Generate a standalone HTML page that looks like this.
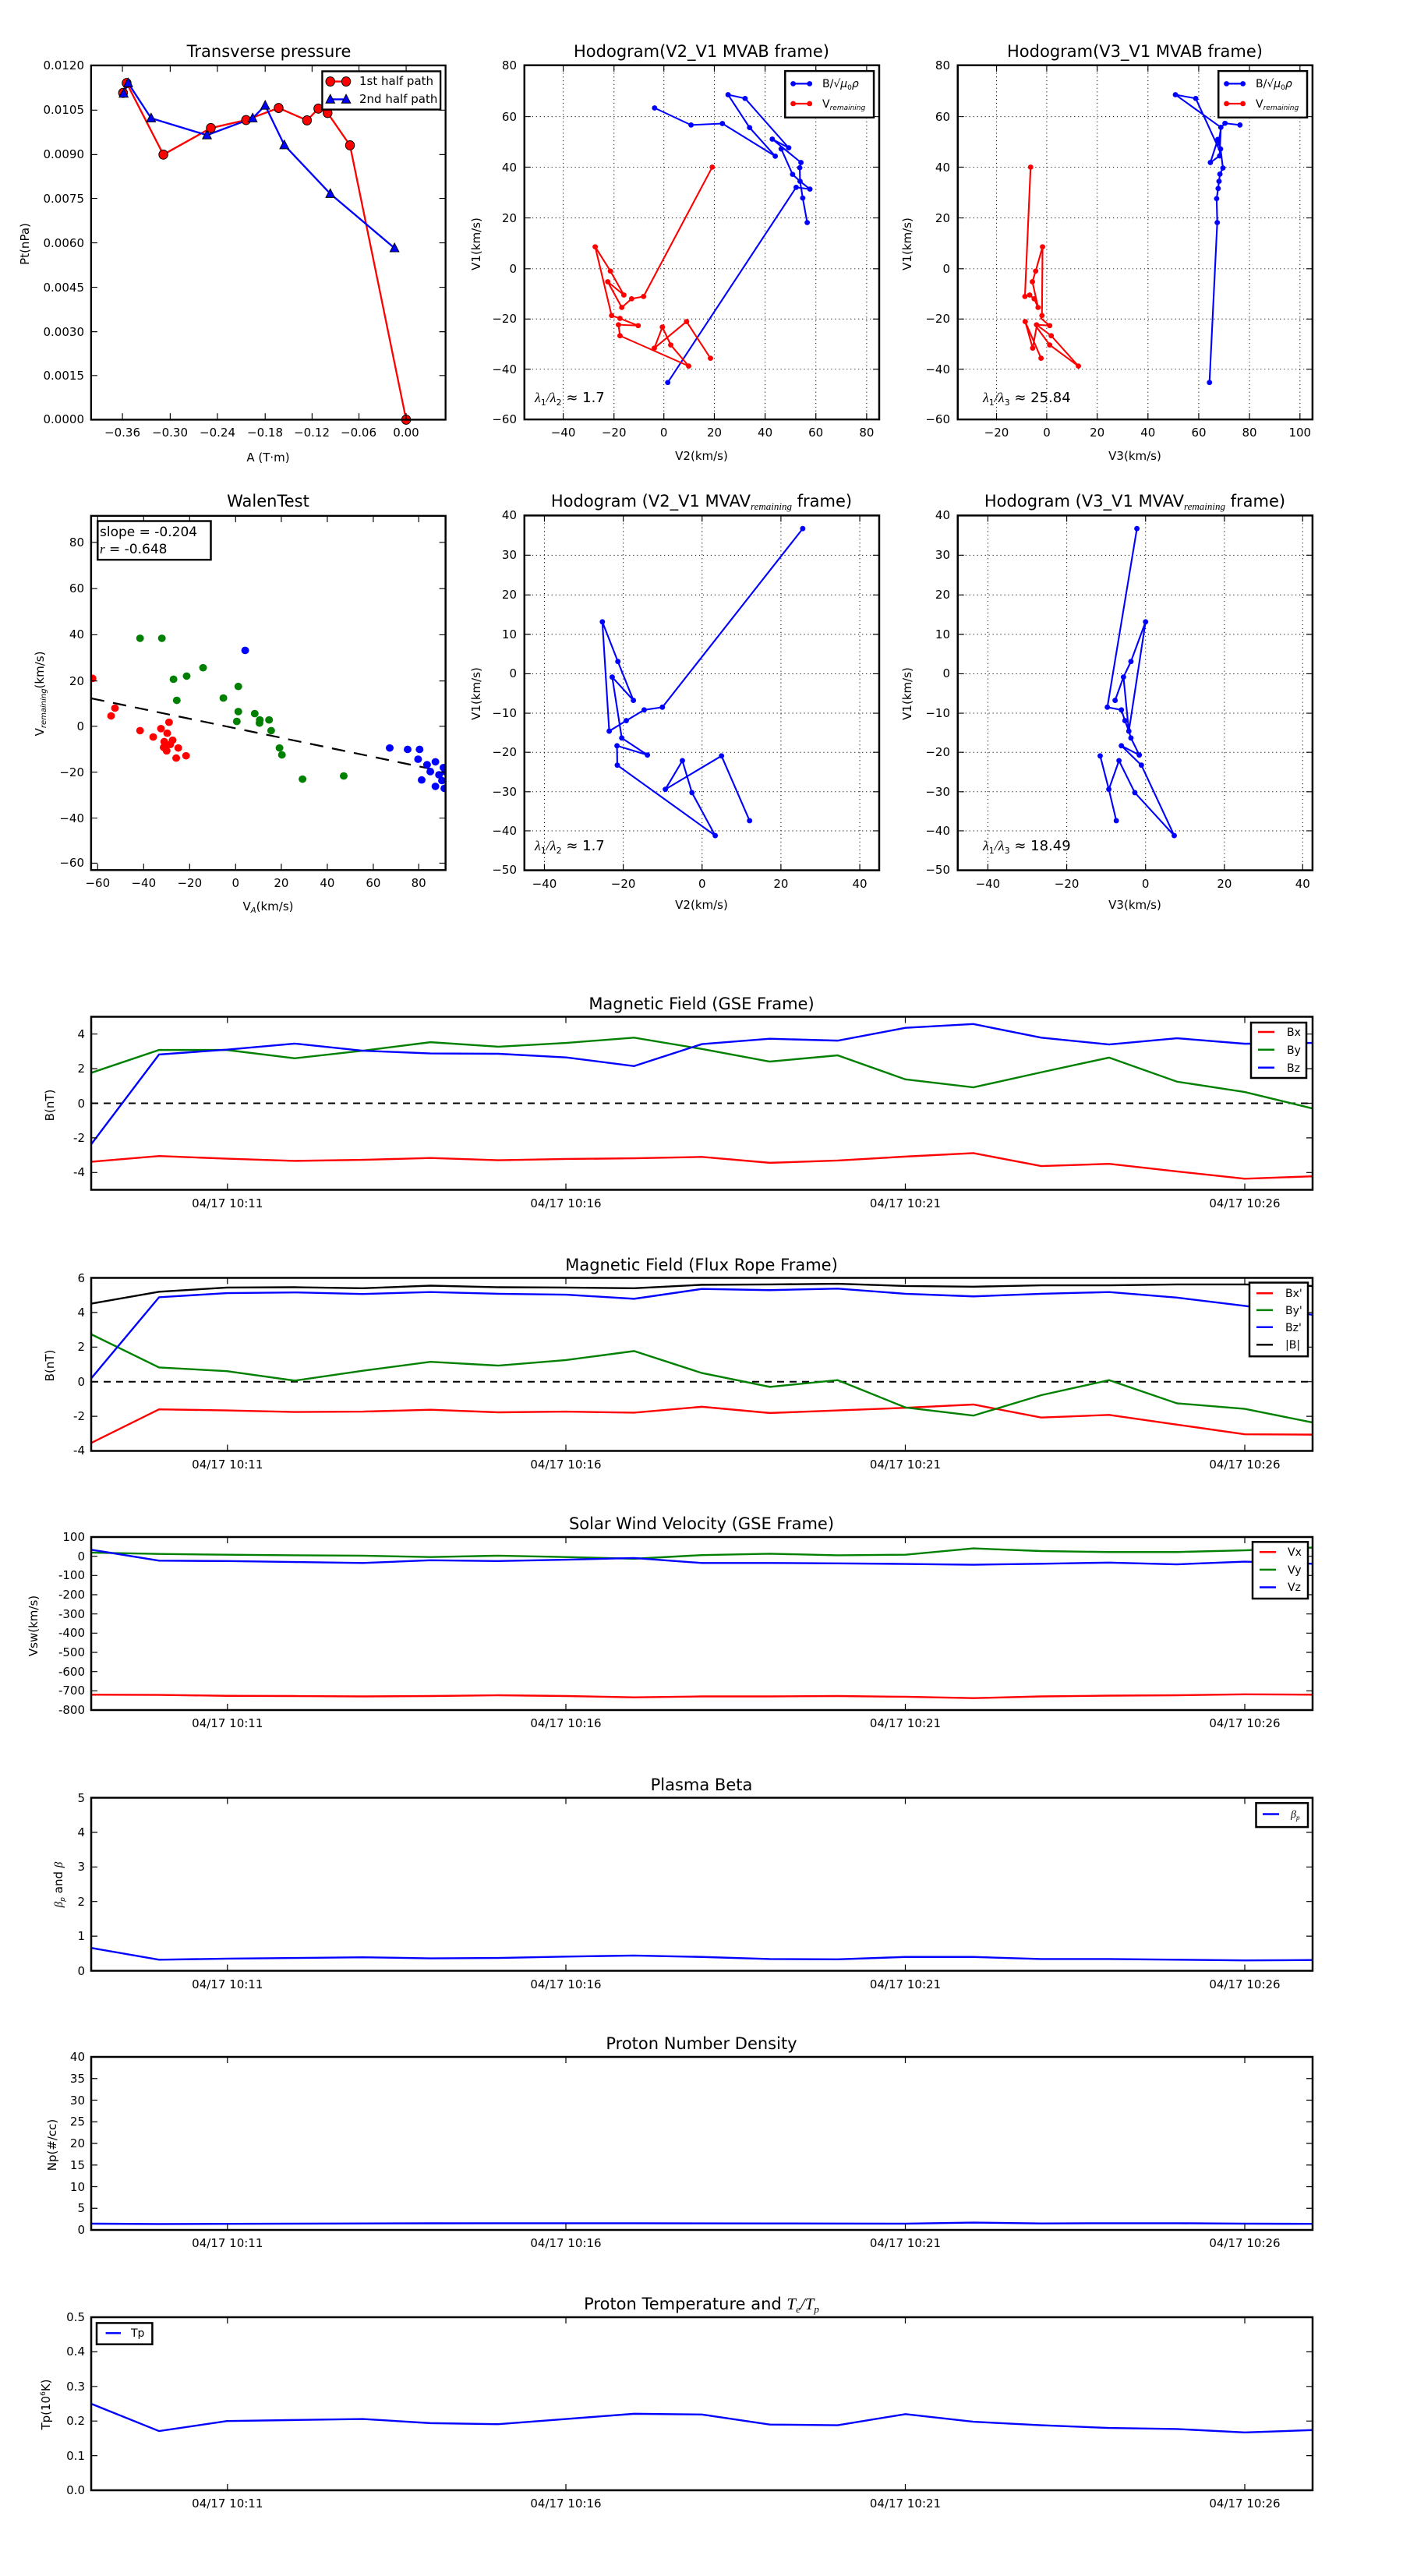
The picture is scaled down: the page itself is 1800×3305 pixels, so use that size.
<!DOCTYPE html>
<html><head><meta charset="utf-8"><style>
body{margin:0;background:#fff}
svg text{font-family:"DejaVu Sans","Liberation Sans",sans-serif;fill:#000}
.t{font-size:21px;text-anchor:middle}
.k{font-size:15px}
.e{text-anchor:end}
.m{text-anchor:middle}
.ns{vector-effect:non-scaling-stroke;fill:none}
</style></head><body>
<svg width="1800" height="3300" xmlns="http://www.w3.org/2000/svg">
<rect width="1800" height="3300" fill="#fff"/>

<!-- ============ Transverse pressure ============ -->
<g transform="translate(0,0) scale(0.38314,0.39591)">
<polyline points="412,301 424,269 547,501 706,415 824,389 933,350 1028,390 1066,352 1097,366 1172,471 1360,1360" fill="none" stroke="#f00" stroke-width="6"/>
<polyline points="414,303 429,269 506,383 693,438 846,383 888,342 952,470 1106,628 1321,804" fill="none" stroke="#00f" stroke-width="6"/>
<g fill="#f00" stroke="#000" stroke-width="2.5">
<circle cx="412" cy="301" r="15"/><circle cx="424" cy="269" r="15"/><circle cx="547" cy="501" r="15"/><circle cx="706" cy="415" r="15"/><circle cx="824" cy="389" r="15"/><circle cx="933" cy="350" r="15"/><circle cx="1028" cy="390" r="15"/><circle cx="1066" cy="352" r="15"/><circle cx="1097" cy="366" r="15"/><circle cx="1172" cy="471" r="15"/><circle cx="1360" cy="1360" r="15"/>
</g>
<g fill="#00f" stroke="#000" stroke-width="2.5">
<polygon points="414,287 399,315 429,315"/><polygon points="429,253 414,281 444,281"/><polygon points="506,367 491,395 521,395"/><polygon points="693,422 678,450 708,450"/><polygon points="846,367 831,395 861,395"/><polygon points="888,326 873,354 903,354"/><polygon points="952,454 937,482 967,482"/><polygon points="1106,612 1091,640 1121,640"/><polygon points="1321,788 1306,816 1336,816"/>
</g>
<rect x="305" y="212" width="1187" height="1148" fill="none" stroke="#000" stroke-width="6"/>
<path d="M410 1360v-21M570 1360v-21M728 1360v-21M888 1360v-21M1045 1360v-21M1202 1360v-21M1360 1360v-21M410 212v21M570 212v21M728 212v21M888 212v21M1045 212v21M1202 212v21M1360 212v21M305 357h21M305 501h21M305 643h21M305 787h21M305 931h21M305 1075h21M305 1217h21M1492 357h-21M1492 501h-21M1492 643h-21M1492 787h-21M1492 931h-21M1492 1075h-21M1492 1217h-21" stroke="#000" stroke-width="3"/>
<rect x="1079" y="231" width="396" height="124" fill="#fff" stroke="#000" stroke-width="6"/>
<line x1="1106" y1="264" x2="1159" y2="264" stroke="#f00" stroke-width="6"/>
<circle cx="1106" cy="264" r="15" fill="#f00" stroke="#000" stroke-width="2.5"/><circle cx="1159" cy="264" r="15" fill="#f00" stroke="#000" stroke-width="2.5"/>
<line x1="1106" y1="322" x2="1159" y2="322" stroke="#00f" stroke-width="6"/>
<polygon points="1106,306 1091,334 1121,334" fill="#00f" stroke="#000" stroke-width="2.5"/><polygon points="1159,306 1144,334 1174,334" fill="#00f" stroke="#000" stroke-width="2.5"/>
</g>
<text class="t" x="345" y="73">Transverse pressure</text>
<g class="k e">
<text x="108" y="89" class="e">0.0120</text><text x="108" y="146" class="e">0.0105</text><text x="108" y="203" class="e">0.0090</text><text x="108" y="260" class="e">0.0075</text><text x="108" y="317" class="e">0.0060</text><text x="108" y="374" class="e">0.0045</text><text x="108" y="431" class="e">0.0030</text><text x="108" y="487" class="e">0.0015</text><text x="108" y="543" class="e">0.0000</text>
</g>
<g class="k">
<text class="m" x="157" y="560">−0.36</text><text class="m" x="218" y="560">−0.30</text><text class="m" x="279" y="560">−0.24</text><text class="m" x="340" y="560">−0.18</text><text class="m" x="400" y="560">−0.12</text><text class="m" x="460" y="560">−0.06</text><text class="m" x="521" y="560">0.00</text>
<text class="m" x="344" y="592">A (T·m)</text>
<text class="m" transform="translate(37,313) rotate(-90)">Pt(nPa)</text>
<text x="461" y="109">1st half path</text><text x="461" y="132">2nd half path</text>
</g>

<!-- ============ Hodogram V2_V1 MVAB ============ -->
<g transform="translate(600,40) scale(0.38314,0.37037)">
<path d="M320 118V1345M490 118V1345M657 118V1345M826 118V1345M996 118V1345M1166 118V1345M1336 118V1345M190 296H1378M190 471H1378M190 647H1378M190 823H1378M190 997H1378M190 1171H1378" stroke="#000" stroke-width="2.6" stroke-dasharray="3,10"/>
<g fill="none" stroke="#00f" stroke-width="5.5">
<polyline points="626,266 748,325 853,320 1030,433 944,334 872,220 929,233 1075,404 1020,374 1116,455 1112,473 1113,520 1146,547 1100,541 670,1217"/>
<polyline points="1050,408 1088,496 1113,520 1122,578 1137,663"/>
</g>
<g fill="#00f"><circle cx="626" cy="266" r="9"/><circle cx="748" cy="325" r="9"/><circle cx="853" cy="320" r="9"/><circle cx="1030" cy="433" r="9"/><circle cx="944" cy="334" r="9"/><circle cx="872" cy="220" r="9"/><circle cx="929" cy="233" r="9"/><circle cx="1075" cy="404" r="9"/><circle cx="1020" cy="374" r="9"/><circle cx="1116" cy="455" r="9"/><circle cx="1112" cy="473" r="9"/><circle cx="1113" cy="520" r="9"/><circle cx="1146" cy="547" r="9"/><circle cx="1100" cy="541" r="9"/><circle cx="670" cy="1217" r="9"/><circle cx="1050" cy="408" r="9"/><circle cx="1088" cy="496" r="9"/><circle cx="1122" cy="578" r="9"/><circle cx="1137" cy="663" r="9"/></g>
<polyline fill="none" stroke="#f00" stroke-width="5.5" points="819,471 589,919 549,927 516,957 469,868 523,914 478,831 427,747 482,985 510,995 571,1020 505,1017 510,1055 740,1160 680,1087 652,1025 625,1098 733,1006 813,1133"/>
<g fill="#f00"><circle cx="819" cy="471" r="9"/><circle cx="589" cy="919" r="9"/><circle cx="549" cy="927" r="9"/><circle cx="516" cy="957" r="9"/><circle cx="469" cy="868" r="9"/><circle cx="523" cy="914" r="9"/><circle cx="478" cy="831" r="9"/><circle cx="427" cy="747" r="9"/><circle cx="482" cy="985" r="9"/><circle cx="510" cy="995" r="9"/><circle cx="571" cy="1020" r="9"/><circle cx="505" cy="1017" r="9"/><circle cx="510" cy="1055" r="9"/><circle cx="740" cy="1160" r="9"/><circle cx="680" cy="1087" r="9"/><circle cx="652" cy="1025" r="9"/><circle cx="625" cy="1098" r="9"/><circle cx="733" cy="1006" r="9"/><circle cx="813" cy="1133" r="9"/></g>
<rect x="190" y="118" width="1188" height="1227" fill="none" stroke="#000" stroke-width="6.5"/>
<path d="M320 1345v-22M490 1345v-22M657 1345v-22M826 1345v-22M996 1345v-22M1166 1345v-22M1336 1345v-22M320 118v22M490 118v22M657 118v22M826 118v22M996 118v22M1166 118v22M1336 118v22M190 296h21M190 471h21M190 647h21M190 823h21M190 997h21M190 1171h21M1378 296h-21M1378 471h-21M1378 647h-21M1378 823h-21M1378 997h-21M1378 1171h-21" stroke="#000" stroke-width="3"/>
<rect x="1063" y="138" width="297" height="161" fill="#fff" stroke="#000" stroke-width="6.5"/>
<line x1="1090" y1="182" x2="1145" y2="182" stroke="#00f" stroke-width="6"/><circle cx="1090" cy="182" r="9" fill="#00f"/><circle cx="1145" cy="182" r="9" fill="#00f"/>
<line x1="1090" y1="251" x2="1145" y2="251" stroke="#f00" stroke-width="6"/><circle cx="1090" cy="251" r="9" fill="#f00"/><circle cx="1145" cy="251" r="9" fill="#f00"/>
</g>
<text class="t" x="900" y="73">Hodogram(V2_V1 MVAB frame)</text>
<g class="k">
<text class="e" x="663" y="89">80</text><text class="e" x="663" y="155">60</text><text class="e" x="663" y="220">40</text><text class="e" x="663" y="285">20</text><text class="e" x="663" y="350">0</text><text class="e" x="663" y="414">−20</text><text class="e" x="663" y="479">−40</text><text class="e" x="663" y="543">−60</text>
<text class="m" x="722.6" y="560">−40</text><text class="m" x="787.7" y="560">−20</text><text class="m" x="851.7" y="560">0</text><text class="m" x="916.5" y="560">20</text><text class="m" x="981.6" y="560">40</text><text class="m" x="1046.7" y="560">60</text><text class="m" x="1111.9" y="560">80</text>
<text class="m" x="900" y="590">V2(km/s)</text>
<text class="m" transform="translate(616,313) rotate(-90)">V1(km/s)</text>
<text x="1055" y="112" style="font-size:14px">B/√<tspan font-style="italic">μ</tspan><tspan font-size="9" dy="3">0</tspan><tspan dy="-3" font-style="italic">ρ</tspan></text>
<text x="1055" y="138" style="font-size:14px">V<tspan font-size="9" dy="3" font-style="italic">remaining</tspan></text>
</g>
<text x="686" y="516" style="font-size:18px"><tspan font-style="italic" font-family="Liberation Serif">λ</tspan><tspan font-size="11" dy="4">1</tspan><tspan dy="-4" font-style="italic" font-family="Liberation Serif">/λ</tspan><tspan font-size="11" dy="4">2</tspan><tspan dy="-4"> ≈ 1.7</tspan></text>

<!-- ============ Hodogram V3_V1 MVAB ============ -->
<g transform="translate(1200,40) scale(0.38314,0.37037)">
<path d="M205 118V1345M373 118V1345M542 118V1345M712 118V1345M882 118V1345M1052 118V1345M1221 118V1345M75 296H1263M75 471H1263M75 647H1263M75 823H1263M75 997H1263M75 1171H1263" stroke="#000" stroke-width="2.6" stroke-dasharray="3,10"/>
<polyline fill="none" stroke="#00f" stroke-width="5.5" points="918,1217 944,663 942,580 947,545 950,520 953,495 963,474 955,408 946,375 921,455 952,432 956,333 804,220 872,233 946,400 957,333 970,319 1020,325"/>
<g fill="#00f"><circle cx="918" cy="1217" r="9"/><circle cx="944" cy="663" r="9"/><circle cx="942" cy="580" r="9"/><circle cx="947" cy="545" r="9"/><circle cx="950" cy="520" r="9"/><circle cx="953" cy="495" r="9"/><circle cx="963" cy="474" r="9"/><circle cx="955" cy="408" r="9"/><circle cx="946" cy="375" r="9"/><circle cx="921" cy="455" r="9"/><circle cx="952" cy="432" r="9"/><circle cx="956" cy="333" r="9"/><circle cx="804" cy="220" r="9"/><circle cx="872" cy="233" r="9"/><circle cx="970" cy="319" r="9"/><circle cx="1020" cy="325" r="9"/></g>
<polyline fill="none" stroke="#f00" stroke-width="5.5" points="319,471 300,919 316,914 331,927 344,957 325,868 336,831 359,747 357,985 354,995 383,1020 339,1017 388,1055 479,1160 383,1087 339,1025 326,1098 301,1006 354,1133"/>
<g fill="#f00"><circle cx="319" cy="471" r="9"/><circle cx="300" cy="919" r="9"/><circle cx="316" cy="914" r="9"/><circle cx="331" cy="927" r="9"/><circle cx="344" cy="957" r="9"/><circle cx="325" cy="868" r="9"/><circle cx="336" cy="831" r="9"/><circle cx="359" cy="747" r="9"/><circle cx="357" cy="985" r="9"/><circle cx="383" cy="1020" r="9"/><circle cx="339" cy="1017" r="9"/><circle cx="388" cy="1055" r="9"/><circle cx="479" cy="1160" r="9"/><circle cx="383" cy="1087" r="9"/><circle cx="326" cy="1098" r="9"/><circle cx="301" cy="1006" r="9"/><circle cx="354" cy="1133" r="9"/></g>
<rect x="75" y="118" width="1188" height="1227" fill="none" stroke="#000" stroke-width="6.5"/>
<path d="M205 1345v-22M373 1345v-22M542 1345v-22M712 1345v-22M882 1345v-22M1052 1345v-22M1221 1345v-22M205 118v22M373 118v22M542 118v22M712 118v22M882 118v22M1052 118v22M1221 118v22M75 296h21M75 471h21M75 647h21M75 823h21M75 997h21M75 1171h21M1263 296h-21M1263 471h-21M1263 647h-21M1263 823h-21M1263 997h-21M1263 1171h-21" stroke="#000" stroke-width="3"/>
<rect x="948" y="138" width="297" height="161" fill="#fff" stroke="#000" stroke-width="6.5"/>
<line x1="975" y1="182" x2="1030" y2="182" stroke="#00f" stroke-width="6"/><circle cx="975" cy="182" r="9" fill="#00f"/><circle cx="1030" cy="182" r="9" fill="#00f"/>
<line x1="975" y1="251" x2="1030" y2="251" stroke="#f00" stroke-width="6"/><circle cx="975" cy="251" r="9" fill="#f00"/><circle cx="1030" cy="251" r="9" fill="#f00"/>
</g>
<text class="t" x="1456" y="73">Hodogram(V3_V1 MVAB frame)</text>
<g class="k">
<text class="e" x="1219" y="89">80</text><text class="e" x="1219" y="155">60</text><text class="e" x="1219" y="220">40</text><text class="e" x="1219" y="285">20</text><text class="e" x="1219" y="350">0</text><text class="e" x="1219" y="414">−20</text><text class="e" x="1219" y="479">−40</text><text class="e" x="1219" y="543">−60</text>
<text class="m" x="1278.5" y="560">−20</text><text class="m" x="1343" y="560">0</text><text class="m" x="1407.7" y="560">20</text><text class="m" x="1472.8" y="560">40</text><text class="m" x="1538" y="560">60</text><text class="m" x="1603" y="560">80</text><text class="m" x="1667.8" y="560">100</text>
<text class="m" x="1456" y="590">V3(km/s)</text>
<text class="m" transform="translate(1169,313) rotate(-90)">V1(km/s)</text>
<text x="1611" y="112" style="font-size:14px">B/√<tspan font-style="italic">μ</tspan><tspan font-size="9" dy="3">0</tspan><tspan dy="-3" font-style="italic">ρ</tspan></text>
<text x="1611" y="138" style="font-size:14px">V<tspan font-size="9" dy="3" font-style="italic">remaining</tspan></text>
</g>
<text x="1261" y="516" style="font-size:18px"><tspan font-style="italic" font-family="Liberation Serif">λ</tspan><tspan font-size="11" dy="4">1</tspan><tspan dy="-4" font-style="italic" font-family="Liberation Serif">/λ</tspan><tspan font-size="11" dy="4">3</tspan><tspan dy="-4"> ≈ 25.84</tspan></text>

<!-- ============ WalenTest ============ -->
<defs><clipPath id="wc"><rect x="305" y="113" width="1187" height="1227"/></clipPath></defs>
<g transform="translate(0,620) scale(0.38314,0.37037)">
<g clip-path="url(#wc)">
<line x1="305" y1="745" x2="1492" y2="1000" stroke="#000" stroke-width="6" stroke-dasharray="45,30"/>
<g fill="#f00"><circle cx="310" cy="676" r="13"/><circle cx="372" cy="806" r="13"/><circle cx="385" cy="779" r="13"/><circle cx="469" cy="857" r="13"/><circle cx="513" cy="879" r="13"/><circle cx="539" cy="850" r="13"/><circle cx="566" cy="828" r="13"/><circle cx="560" cy="866" r="13"/><circle cx="550" cy="895" r="13"/><circle cx="578" cy="890" r="13"/><circle cx="548" cy="915" r="13"/><circle cx="558" cy="927" r="13"/><circle cx="570" cy="905" r="13"/><circle cx="597" cy="917" r="13"/><circle cx="590" cy="952" r="13"/><circle cx="623" cy="944" r="13"/></g>
<g fill="#008000"><circle cx="469" cy="537" r="13"/><circle cx="542" cy="537" r="13"/><circle cx="680" cy="639" r="13"/><circle cx="625" cy="668" r="13"/><circle cx="581" cy="679" r="13"/><circle cx="592" cy="752" r="13"/><circle cx="748" cy="744" r="13"/><circle cx="798" cy="704" r="13"/><circle cx="798" cy="791" r="13"/><circle cx="793" cy="825" r="13"/><circle cx="853" cy="798" r="13"/><circle cx="869" cy="831" r="13"/><circle cx="870" cy="820" r="13"/><circle cx="901" cy="820" r="13"/><circle cx="908" cy="857" r="13"/><circle cx="936" cy="917" r="13"/><circle cx="944" cy="941" r="13"/><circle cx="1013" cy="1025" r="13"/><circle cx="1151" cy="1014" r="13"/></g>
<g fill="#00f"><circle cx="821" cy="579" r="13"/><circle cx="1305" cy="917" r="13"/><circle cx="1365" cy="922" r="13"/><circle cx="1405" cy="922" r="13"/><circle cx="1400" cy="956" r="13"/><circle cx="1430" cy="975" r="13"/><circle cx="1441" cy="999" r="13"/><circle cx="1458" cy="965" r="13"/><circle cx="1412" cy="1028" r="13"/><circle cx="1458" cy="1050" r="13"/><circle cx="1470" cy="1010" r="13"/><circle cx="1485" cy="985" r="13"/><circle cx="1480" cy="1030" r="13"/><circle cx="1488" cy="1057" r="13"/><circle cx="1492" cy="1000" r="13"/></g>
</g>
<rect x="305" y="113" width="1187" height="1227" fill="none" stroke="#000" stroke-width="6.5"/>
<path d="M327 1340v-22M481 1340v-22M635 1340v-22M789 1340v-22M942 1340v-22M1096 1340v-22M1250 1340v-22M1402 1340v-22M327 113v22M481 113v22M635 113v22M789 113v22M942 113v22M1096 113v22M1250 113v22M1402 113v22M305 205h21M305 365h21M305 525h21M305 685h21M305 842h21M305 1001h21M305 1160h21M305 1316h21M1492 205h-21M1492 365h-21M1492 525h-21M1492 685h-21M1492 842h-21M1492 1001h-21M1492 1160h-21M1492 1316h-21" stroke="#000" stroke-width="3"/>
<rect x="327" y="131" width="379" height="134" fill="#fff" stroke="#000" stroke-width="6.5"/>
</g>
<text class="t" x="344" y="650">WalenTest</text>
<g class="k">
<text class="e" x="108" y="701">80</text><text class="e" x="108" y="760">60</text><text class="e" x="108" y="819">40</text><text class="e" x="108" y="879">20</text><text class="e" x="108" y="937">0</text><text class="e" x="108" y="996">−20</text><text class="e" x="108" y="1055">−40</text><text class="e" x="108" y="1112">−60</text>
<text class="m" x="125.3" y="1138">−60</text><text class="m" x="184.3" y="1138">−40</text><text class="m" x="243.3" y="1138">−20</text><text class="m" x="302.3" y="1138">0</text><text class="m" x="360.9" y="1138">20</text><text class="m" x="419.9" y="1138">40</text><text class="m" x="478.9" y="1138">60</text><text class="m" x="537.2" y="1138">80</text>
<text class="m" x="344" y="1168">V<tspan font-size="10" dy="3" font-style="italic">A</tspan><tspan dy="-3">(km/s)</tspan></text>
<text class="m" transform="translate(56,890) rotate(-90)">V<tspan font-size="10" dy="3" font-style="italic">remaining</tspan><tspan dy="-3">(km/s)</tspan></text>
</g>
<text x="128" y="688" style="font-size:17px">slope = -0.204</text>
<text x="128" y="710" style="font-size:17px"><tspan font-style="italic" font-family="Liberation Serif">r</tspan> = -0.648</text>

<!-- ============ Hodogram V2_V1 MVAV ============ -->
<g transform="translate(600,620) scale(0.38314,0.38314)">
<path d="M257 108V1296M521 108V1296M785 108V1296M1049 108V1296M1313 108V1296M190 241H1378M190 374H1378M190 506H1378M190 638H1378M190 770H1378M190 901H1378M190 1033H1378M190 1164H1378" stroke="#000" stroke-width="2.6" stroke-dasharray="3,10"/>
<polyline fill="none" stroke="#00f" stroke-width="5.5" points="1122,152 652,750 591,759 531,795 474,830 451,464 503,597 555,727 484,649 516,853 602,910 500,879 501,944 829,1180 751,1036 719,929 662,1025 850,913 944,1130"/>
<g fill="#00f"><circle cx="1122" cy="152" r="9"/><circle cx="652" cy="750" r="9"/><circle cx="591" cy="759" r="9"/><circle cx="531" cy="795" r="9"/><circle cx="474" cy="830" r="9"/><circle cx="451" cy="464" r="9"/><circle cx="503" cy="597" r="9"/><circle cx="555" cy="727" r="9"/><circle cx="484" cy="649" r="9"/><circle cx="516" cy="853" r="9"/><circle cx="602" cy="910" r="9"/><circle cx="500" cy="879" r="9"/><circle cx="501" cy="944" r="9"/><circle cx="829" cy="1180" r="9"/><circle cx="751" cy="1036" r="9"/><circle cx="719" cy="929" r="9"/><circle cx="662" cy="1025" r="9"/><circle cx="850" cy="913" r="9"/><circle cx="944" cy="1130" r="9"/></g>
<rect x="190" y="108" width="1188" height="1188" fill="none" stroke="#000" stroke-width="6.5"/>
<path d="M257 1296v-21M521 1296v-21M785 1296v-21M1049 1296v-21M1313 1296v-21M257 108v21M521 108v21M785 108v21M1049 108v21M1313 108v21M190 241h21M190 374h21M190 506h21M190 638h21M190 770h21M190 901h21M190 1033h21M190 1164h21M1378 241h-21M1378 374h-21M1378 506h-21M1378 638h-21M1378 770h-21M1378 901h-21M1378 1033h-21M1378 1164h-21" stroke="#000" stroke-width="3"/>
</g>
<text class="t" x="900" y="650">Hodogram (V2_V1 MVAV<tspan font-size="13" dy="4" font-style="italic" font-family="Liberation Serif">remaining</tspan><tspan dy="-4"> frame)</tspan></text>
<g class="k">
<text class="e" x="663" y="666">40</text><text class="e" x="663" y="717">30</text><text class="e" x="663" y="768">20</text><text class="e" x="663" y="819">10</text><text class="e" x="663" y="869">0</text><text class="e" x="663" y="920">−10</text><text class="e" x="663" y="970">−20</text><text class="e" x="663" y="1021">−30</text><text class="e" x="663" y="1071">−40</text><text class="e" x="663" y="1121">−50</text>
<text class="m" x="698.5" y="1139">−40</text><text class="m" x="799.6" y="1139">−20</text><text class="m" x="900.8" y="1139">0</text><text class="m" x="1001.9" y="1139">20</text><text class="m" x="1103" y="1139">40</text>
<text class="m" x="900" y="1166">V2(km/s)</text>
<text class="m" transform="translate(616,890) rotate(-90)">V1(km/s)</text>
</g>
<text x="686" y="1091" style="font-size:18px"><tspan font-style="italic" font-family="Liberation Serif">λ</tspan><tspan font-size="11" dy="4">1</tspan><tspan dy="-4" font-style="italic" font-family="Liberation Serif">/λ</tspan><tspan font-size="11" dy="4">2</tspan><tspan dy="-4"> ≈ 1.7</tspan></text>

<!-- ============ Hodogram V3_V1 MVAV ============ -->
<g transform="translate(1200,620) scale(0.38314,0.38314)">
<path d="M176 108V1296M440 108V1296M704 108V1296M968 108V1296M1230 108V1296M75 241H1263M75 374H1263M75 506H1263M75 638H1263M75 770H1263M75 901H1263M75 1033H1263M75 1164H1263" stroke="#000" stroke-width="2.6" stroke-dasharray="3,10"/>
<polyline fill="none" stroke="#00f" stroke-width="5.5" points="675,152 576,750 623,759 635,795 648,830 704,464 655,597 630,649 602,727 630,649 648,830 655,853 683,910 623,879 690,944 800,1180 668,1036 615,929 581,1025 552,913 581,1025 606,1130"/>
<g fill="#00f"><circle cx="675" cy="152" r="9"/><circle cx="576" cy="750" r="9"/><circle cx="623" cy="759" r="9"/><circle cx="635" cy="795" r="9"/><circle cx="648" cy="830" r="9"/><circle cx="630" cy="649" r="9"/><circle cx="602" cy="727" r="9"/><circle cx="655" cy="597" r="9"/><circle cx="704" cy="464" r="9"/><circle cx="655" cy="853" r="9"/><circle cx="683" cy="910" r="9"/><circle cx="623" cy="879" r="9"/><circle cx="690" cy="944" r="9"/><circle cx="800" cy="1180" r="9"/><circle cx="668" cy="1036" r="9"/><circle cx="615" cy="929" r="9"/><circle cx="581" cy="1025" r="9"/><circle cx="552" cy="913" r="9"/><circle cx="606" cy="1130" r="9"/></g>
<rect x="75" y="108" width="1188" height="1188" fill="none" stroke="#000" stroke-width="6.5"/>
<path d="M176 1296v-21M440 1296v-21M704 1296v-21M968 1296v-21M1230 1296v-21M176 108v21M440 108v21M704 108v21M968 108v21M1230 108v21M75 241h21M75 374h21M75 506h21M75 638h21M75 770h21M75 901h21M75 1033h21M75 1164h21M1263 241h-21M1263 374h-21M1263 506h-21M1263 638h-21M1263 770h-21M1263 901h-21M1263 1033h-21M1263 1164h-21" stroke="#000" stroke-width="3"/>
</g>
<text class="t" x="1456" y="650">Hodogram (V3_V1 MVAV<tspan font-size="13" dy="4" font-style="italic" font-family="Liberation Serif">remaining</tspan><tspan dy="-4"> frame)</tspan></text>
<g class="k">
<text class="e" x="1219" y="666">40</text><text class="e" x="1219" y="717">30</text><text class="e" x="1219" y="768">20</text><text class="e" x="1219" y="819">10</text><text class="e" x="1219" y="869">0</text><text class="e" x="1219" y="920">−10</text><text class="e" x="1219" y="970">−20</text><text class="e" x="1219" y="1021">−30</text><text class="e" x="1219" y="1071">−40</text><text class="e" x="1219" y="1121">−50</text>
<text class="m" x="1267.4" y="1139">−40</text><text class="m" x="1368.6" y="1139">−20</text><text class="m" x="1469.7" y="1139">0</text><text class="m" x="1570.9" y="1139">20</text><text class="m" x="1671.3" y="1139">40</text>
<text class="m" x="1456" y="1166">V3(km/s)</text>
<text class="m" transform="translate(1169,890) rotate(-90)">V1(km/s)</text>
</g>
<text x="1261" y="1091" style="font-size:18px"><tspan font-style="italic" font-family="Liberation Serif">λ</tspan><tspan font-size="11" dy="4">1</tspan><tspan dy="-4" font-style="italic" font-family="Liberation Serif">/λ</tspan><tspan font-size="11" dy="4">3</tspan><tspan dy="-4"> ≈ 18.49</tspan></text>

<!-- ============ Time panels ============ -->
<!-- GSE -->
<line x1="117" y1="1415.5" x2="1684" y2="1415.5" stroke="#000" stroke-width="2" stroke-dasharray="9,7"/>
<g transform="translate(117,1415.5) scale(87.06,-22.2)" stroke-width="2.4">
<polyline class="ns" stroke="#f00" points="0,-3.38 1,-3.05 2,-3.2 3,-3.33 4,-3.27 5,-3.16 6,-3.29 7,-3.22 8,-3.18 9,-3.1 10,-3.44 11,-3.31 12,-3.08 13,-2.88 14,-3.63 15,-3.5 16,-3.94 17,-4.36 18,-4.22"/>
<polyline class="ns" stroke="#008000" points="0,1.76 1,3.08 2,3.08 3,2.6 4,3.04 5,3.53 6,3.27 7,3.49 8,3.79 9,3.14 10,2.41 11,2.77 12,1.38 13,0.92 14,1.79 15,2.64 16,1.25 17,0.65 18,-0.3"/>
<polyline class="ns" stroke="#00f" points="0,-2.37 1,2.82 2,3.1 3,3.45 4,3.04 5,2.88 6,2.86 7,2.65 8,2.15 9,3.42 10,3.73 11,3.62 12,4.36 13,4.58 14,3.79 15,3.4 16,3.76 17,3.44 18,3.49"/>
</g>
<rect x="117" y="1304.5" width="1567" height="222" fill="none" stroke="#000" stroke-width="2.5"/>
<path d="M291.8 1526.5v-8M726 1526.5v-8M1161.5 1526.5v-8M1597 1526.5v-8M291.8 1304.5v8M726 1304.5v8M1161.5 1304.5v8M1597 1304.5v8M117 1326.7h8M117 1371.1h8M117 1415.5h8M117 1459.9h8M117 1504.3h8M1684 1326.7h-8M1684 1371.1h-8M1684 1415.5h-8M1684 1459.9h-8M1684 1504.3h-8" stroke="#000" stroke-width="1.2"/>
<rect x="1605" y="1312" width="71" height="71" fill="#fff" stroke="#000" stroke-width="2.5"/>
<path d="M1614 1324h21" stroke="#f00" stroke-width="2.5"/><path d="M1614 1346.7h21" stroke="#008000" stroke-width="2.5"/><path d="M1614 1369.7h21" stroke="#00f" stroke-width="2.5"/>
<g style="font-size:14px"><text x="1651" y="1329">Bx</text><text x="1651" y="1352">By</text><text x="1651" y="1375">Bz</text></g>
<text class="t" x="900" y="1295">Magnetic Field (GSE Frame)</text>
<g class="k">
<text class="e" x="109" y="1332">4</text><text class="e" x="109" y="1376">2</text><text class="e" x="109" y="1421">0</text><text class="e" x="109" y="1465">-2</text><text class="e" x="109" y="1509">-4</text>
<text class="m" x="291.8" y="1549">04/17 10:11</text><text class="m" x="726" y="1549">04/17 10:16</text><text class="m" x="1161.5" y="1549">04/17 10:21</text><text class="m" x="1597" y="1549">04/17 10:26</text>
<text class="m" transform="translate(69,1418) rotate(-90)">B(nT)</text>
</g>

<!-- Flux rope -->
<line x1="117" y1="1772.7" x2="1684" y2="1772.7" stroke="#000" stroke-width="2" stroke-dasharray="9,7"/>
<g transform="translate(117,1772.7) scale(87.06,-22.2)">
<polyline class="ns" stroke="#f00" stroke-width="2.4" points="0,-3.54 1,-1.6 2,-1.66 3,-1.75 4,-1.73 5,-1.62 6,-1.77 7,-1.73 8,-1.79 9,-1.45 10,-1.81 11,-1.66 12,-1.51 13,-1.32 14,-2.07 15,-1.92 16,-2.48 17,-3.04 18,-3.06"/>
<polyline class="ns" stroke="#008000" stroke-width="2.4" points="0,2.74 1,0.82 2,0.61 3,0.06 4,0.63 5,1.15 6,0.93 7,1.25 8,1.77 9,0.5 10,-0.3 11,0.09 12,-1.49 13,-1.96 14,-0.78 15,0.09 16,-1.25 17,-1.57 18,-2.36"/>
<polyline class="ns" stroke="#00f" stroke-width="2.4" points="0,0.19 1,4.88 2,5.12 3,5.16 4,5.07 5,5.18 6,5.08 7,5.03 8,4.79 9,5.36 10,5.29 11,5.38 12,5.08 13,4.93 14,5.08 15,5.18 16,4.86 17,4.38 18,3.87"/>
<polyline class="ns" stroke="#000" stroke-width="2.4" points="0,4.51 1,5.2 2,5.44 3,5.46 4,5.4 5,5.55 6,5.46 7,5.44 8,5.4 9,5.6 10,5.62 11,5.66 12,5.53 13,5.49 14,5.57 15,5.57 16,5.62 17,5.62 18,5.53"/>
</g>
<rect x="117" y="1639.5" width="1567" height="222" fill="none" stroke="#000" stroke-width="2.5"/>
<path d="M291.8 1861.5v-8M726 1861.5v-8M1161.5 1861.5v-8M1597 1861.5v-8M291.8 1639.5v8M726 1639.5v8M1161.5 1639.5v8M1597 1639.5v8M117 1683.9h8M117 1728.3h8M117 1772.7h8M117 1817.1h8M1684 1683.9h-8M1684 1728.3h-8M1684 1772.7h-8M1684 1817.1h-8" stroke="#000" stroke-width="1.2"/>
<rect x="1603" y="1645.6" width="75" height="94.6" fill="#fff" stroke="#000" stroke-width="2.5"/>
<path d="M1612 1659.3h21" stroke="#f00" stroke-width="2.5"/><path d="M1612 1680.9h21" stroke="#008000" stroke-width="2.5"/><path d="M1612 1702.8h21" stroke="#00f" stroke-width="2.5"/><path d="M1612 1725.3h21" stroke="#000" stroke-width="2.5"/>
<g style="font-size:14px"><text x="1649" y="1664">Bx'</text><text x="1649" y="1686">By'</text><text x="1649" y="1708">Bz'</text><text x="1649" y="1730">|B|</text></g>
<text class="t" x="900" y="1630">Magnetic Field (Flux Rope Frame)</text>
<g class="k">
<text class="e" x="109" y="1645">6</text><text class="e" x="109" y="1689">4</text><text class="e" x="109" y="1733">2</text><text class="e" x="109" y="1778">0</text><text class="e" x="109" y="1822">-2</text><text class="e" x="109" y="1866">-4</text>
<text class="m" x="291.8" y="1884">04/17 10:11</text><text class="m" x="726" y="1884">04/17 10:16</text><text class="m" x="1161.5" y="1884">04/17 10:21</text><text class="m" x="1597" y="1884">04/17 10:26</text>
<text class="m" transform="translate(69,1752) rotate(-90)">B(nT)</text>
</g>

<!-- Solar wind -->
<g transform="translate(117,1996.67) scale(87.06,-0.24667)">
<polyline class="ns" stroke="#f00" stroke-width="2.4" points="0,-720 1,-721 2,-726 3,-727 4,-729 5,-727 6,-723 7,-727 8,-734 9,-729 10,-729 11,-727 12,-731 13,-738 14,-729 15,-725 16,-723 17,-718 18,-720"/>
<polyline class="ns" stroke="#008000" stroke-width="2.4" points="0,19 1,12 2,8 3,5 4,3 5,-4 6,3 7,-4 8,-13 9,6 10,13 11,5 12,8 13,41 14,27 15,22 16,22 17,31 18,45"/>
<polyline class="ns" stroke="#00f" stroke-width="2.4" points="0,34 1,-23 2,-25 3,-30 4,-35 5,-21 6,-25 7,-18 8,-9 9,-35 10,-35 11,-37 12,-40 13,-44 14,-39 15,-33 16,-42 17,-28 18,-39"/>
</g>
<rect x="117" y="1972" width="1567" height="222" fill="none" stroke="#000" stroke-width="2.5"/>
<path d="M291.8 2194v-8M726 2194v-8M1161.5 2194v-8M1597 2194v-8M291.8 1972v8M726 1972v8M1161.5 1972v8M1597 1972v8M117 1996.7h8M117 2021.3h8M117 2046h8M117 2070.7h8M117 2095.3h8M117 2120h8M117 2144.7h8M117 2169.3h8M1684 1996.7h-8M1684 2021.3h-8M1684 2046h-8M1684 2070.7h-8M1684 2095.3h-8M1684 2120h-8M1684 2144.7h-8M1684 2169.3h-8" stroke="#000" stroke-width="1.2"/>
<rect x="1607" y="1978.3" width="71" height="72.7" fill="#fff" stroke="#000" stroke-width="2.5"/>
<path d="M1616 1991.2h21" stroke="#f00" stroke-width="2.5"/><path d="M1616 2013.9h21" stroke="#008000" stroke-width="2.5"/><path d="M1616 2036.5h21" stroke="#00f" stroke-width="2.5"/>
<g style="font-size:14px"><text x="1652" y="1996">Vx</text><text x="1652" y="2019">Vy</text><text x="1652" y="2041">Vz</text></g>
<text class="t" x="900" y="1962">Solar Wind Velocity (GSE Frame)</text>
<g class="k">
<text class="e" x="109" y="1977">100</text><text class="e" x="109" y="2002">0</text><text class="e" x="109" y="2026">-100</text><text class="e" x="109" y="2051">-200</text><text class="e" x="109" y="2076">-300</text><text class="e" x="109" y="2100">-400</text><text class="e" x="109" y="2125">-500</text><text class="e" x="109" y="2150">-600</text><text class="e" x="109" y="2174">-700</text><text class="e" x="109" y="2199">-800</text>
<text class="m" x="291.8" y="2216">04/17 10:11</text><text class="m" x="726" y="2216">04/17 10:16</text><text class="m" x="1161.5" y="2216">04/17 10:21</text><text class="m" x="1597" y="2216">04/17 10:26</text>
<text class="m" transform="translate(48,2086) rotate(-90)">Vsw(km/s)</text>
</g>

<!-- Plasma beta -->
<g transform="translate(117,2528.5) scale(87.06,-44.4)">
<polyline class="ns" stroke="#00f" stroke-width="2.4" points="0,0.66 1,0.32 2,0.35 3,0.37 4,0.39 5,0.36 6,0.37 7,0.41 8,0.44 9,0.4 10,0.34 11,0.33 12,0.4 13,0.4 14,0.34 15,0.34 16,0.32 17,0.3 18,0.31"/>
</g>
<rect x="117" y="2306.5" width="1567" height="222" fill="none" stroke="#000" stroke-width="2.5"/>
<path d="M291.8 2528.5v-8M726 2528.5v-8M1161.5 2528.5v-8M1597 2528.5v-8M291.8 2306.5v8M726 2306.5v8M1161.5 2306.5v8M1597 2306.5v8M117 2350.9h8M117 2395.3h8M117 2439.7h8M117 2484.1h8M1684 2350.9h-8M1684 2395.3h-8M1684 2439.7h-8M1684 2484.1h-8" stroke="#000" stroke-width="1.2"/>
<rect x="1611.5" y="2313.3" width="66.5" height="30.8" fill="#fff" stroke="#000" stroke-width="2.5"/>
<path d="M1620 2327.5h21" stroke="#00f" stroke-width="2.5"/>
<text x="1656" y="2332" style="font-size:14px;font-style:italic;font-family:'Liberation Serif',serif">β<tspan font-size="9" dy="3">p</tspan></text>
<text class="t" x="900" y="2297">Plasma Beta</text>
<g class="k">
<text class="e" x="109" y="2312">5</text><text class="e" x="109" y="2356">4</text><text class="e" x="109" y="2400">3</text><text class="e" x="109" y="2445">2</text><text class="e" x="109" y="2489">1</text><text class="e" x="109" y="2534">0</text>
<text class="m" x="291.8" y="2551">04/17 10:11</text><text class="m" x="726" y="2551">04/17 10:16</text><text class="m" x="1161.5" y="2551">04/17 10:21</text><text class="m" x="1597" y="2551">04/17 10:26</text>
<text class="m" transform="translate(80,2418) rotate(-90)"><tspan font-style="italic" font-family="Liberation Serif">β</tspan><tspan font-size="9" dy="3" font-style="italic">p</tspan><tspan dy="-3"> and </tspan><tspan font-style="italic" font-family="Liberation Serif">β</tspan></text>
</g>

<!-- Density -->
<g transform="translate(117,2861) scale(87.06,-5.55)">
<polyline class="ns" stroke="#00f" stroke-width="2.4" points="0,1.45 1,1.37 2,1.4 3,1.45 4,1.5 5,1.53 6,1.55 7,1.55 8,1.55 9,1.52 10,1.5 11,1.48 12,1.45 13,1.7 14,1.5 15,1.55 16,1.55 17,1.45 18,1.4"/>
</g>
<rect x="117" y="2639" width="1567" height="222" fill="none" stroke="#000" stroke-width="2.5"/>
<path d="M291.8 2861v-8M726 2861v-8M1161.5 2861v-8M1597 2861v-8M291.8 2639v8M726 2639v8M1161.5 2639v8M1597 2639v8M117 2666.75h8M117 2694.5h8M117 2722.25h8M117 2750h8M117 2777.75h8M117 2805.5h8M117 2833.25h8M1684 2666.75h-8M1684 2694.5h-8M1684 2722.25h-8M1684 2750h-8M1684 2777.75h-8M1684 2805.5h-8M1684 2833.25h-8" stroke="#000" stroke-width="1.2"/>
<text class="t" x="900" y="2629">Proton Number Density</text>
<g class="k">
<text class="e" x="109" y="2644">40</text><text class="e" x="109" y="2672">35</text><text class="e" x="109" y="2700">30</text><text class="e" x="109" y="2727">25</text><text class="e" x="109" y="2755">20</text><text class="e" x="109" y="2783">15</text><text class="e" x="109" y="2811">10</text><text class="e" x="109" y="2838">5</text><text class="e" x="109" y="2866">0</text>
<text class="m" x="291.8" y="2883">04/17 10:11</text><text class="m" x="726" y="2883">04/17 10:16</text><text class="m" x="1161.5" y="2883">04/17 10:21</text><text class="m" x="1597" y="2883">04/17 10:26</text>
<text class="m" transform="translate(72,2752) rotate(-90)">Np(#/cc)</text>
</g>

<!-- Temperature -->
<g transform="translate(117,3195) scale(87.06,-444)">
<polyline class="ns" stroke="#00f" stroke-width="2.4" points="0,0.25 1,0.171 2,0.2 3,0.203 4,0.206 5,0.194 6,0.191 7,0.206 8,0.221 9,0.219 10,0.19 11,0.188 12,0.22 13,0.198 14,0.188 15,0.18 16,0.177 17,0.167 18,0.174"/>
</g>
<rect x="117" y="2973" width="1567" height="222" fill="none" stroke="#000" stroke-width="2.5"/>
<path d="M291.8 3195v-8M726 3195v-8M1161.5 3195v-8M1597 3195v-8M291.8 2973v8M726 2973v8M1161.5 2973v8M1597 2973v8M117 3017.4h8M117 3061.8h8M117 3106.2h8M117 3150.6h8M1684 3017.4h-8M1684 3061.8h-8M1684 3106.2h-8M1684 3150.6h-8" stroke="#000" stroke-width="1.2"/>
<rect x="124" y="2980.4" width="71.4" height="27.3" fill="#fff" stroke="#000" stroke-width="2.5"/>
<path d="M135.6 2993.4h19.4" stroke="#00f" stroke-width="2.5"/>
<text x="168" y="2998" style="font-size:14px">Tp</text>
<text class="t" x="900" y="2963">Proton Temperature and <tspan font-style="italic" font-family="Liberation Serif">T</tspan><tspan font-size="13" dy="4" font-style="italic" font-family="Liberation Serif">e</tspan><tspan dy="-4" font-style="italic" font-family="Liberation Serif">/T</tspan><tspan font-size="13" dy="4" font-style="italic" font-family="Liberation Serif">p</tspan></text>
<g class="k">
<text class="e" x="109" y="2978">0.5</text><text class="e" x="109" y="3022">0.4</text><text class="e" x="109" y="3067">0.3</text><text class="e" x="109" y="3111">0.2</text><text class="e" x="109" y="3156">0.1</text><text class="e" x="109" y="3200">0.0</text>
<text class="m" x="291.8" y="3217">04/17 10:11</text><text class="m" x="726" y="3217">04/17 10:16</text><text class="m" x="1161.5" y="3217">04/17 10:21</text><text class="m" x="1597" y="3217">04/17 10:26</text>
<text class="m" transform="translate(64,3085) rotate(-90)">Tp(10<tspan font-size="9" dy="-6">6</tspan><tspan dy="6">K)</tspan></text>
</g>
</svg>
</body></html>
